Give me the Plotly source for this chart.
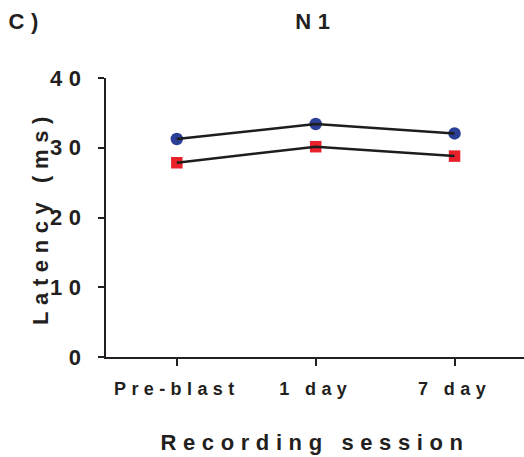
import plotly.graph_objects as go

# Recording sessions and N1 latencies (ms) for the two groups
sessions = ["Pre-blast", "1 day", "7 day"]
latency_circle = [31.25, 33.4, 32.05]
latency_square = [27.85, 30.15, 28.8]

y_ticks = [0, 10, 20, 30, 40]

INK = "#231f20"
BLUE = "#2c3f97"
RED = "#e8212a"
FONT = "Liberation Sans"

fig = go.Figure()

# markers first so the connecting lines sit on top of them
fig.add_trace(go.Scatter(
    x=sessions, y=latency_circle, mode="markers",
    marker=dict(symbol="circle", size=12.5, color=BLUE, line=dict(width=0)),
    showlegend=False, hoverinfo="skip"))
fig.add_trace(go.Scatter(
    x=sessions, y=latency_square, mode="markers",
    marker=dict(symbol="square", size=11.5, color=RED, line=dict(width=0)),
    showlegend=False, hoverinfo="skip"))
fig.add_trace(go.Scatter(
    x=sessions, y=latency_circle, mode="lines",
    line=dict(color="#1d1d1b", width=2.5),
    showlegend=False, hoverinfo="skip"))
fig.add_trace(go.Scatter(
    x=sessions, y=latency_square, mode="lines",
    line=dict(color="#1d1d1b", width=2.5),
    showlegend=False, hoverinfo="skip"))

fig.update_layout(
    width=524, height=457,
    margin=dict(l=106, r=0, t=78, b=100),
    paper_bgcolor="white", plot_bgcolor="white",
    font=dict(family=FONT, color=INK, weight="bold"),
    title=dict(text="N1", x=0.603, xanchor="center", y=1 - 21 / 457,
               yanchor="middle", font=dict(size=22, weight="bold")),
    annotations=[dict(text="C)", xref="paper", yref="paper", x=-0.222, y=1.204,
                      xanchor="left", yanchor="middle", showarrow=False,
                      font=dict(size=22, weight="bold"))],
)

fig.update_xaxes(
    type="category", range=[-0.51, 2.5],
    showline=True, linecolor=INK, linewidth=2,
    ticks="outside", ticklen=7, tickwidth=2, tickcolor=INK,
    showgrid=False, zeroline=False,
    tickfont=dict(size=18, weight="bold"), ticklabelstandoff=7,
    title=dict(text="Recording session", standoff=37,
               font=dict(size=22, weight="bold")),
)
fig.update_yaxes(
    range=[0, 40], tickvals=y_ticks,
    showline=True, linecolor=INK, linewidth=2,
    ticks="outside", ticklen=6, tickwidth=2, tickcolor=INK,
    showgrid=False, zeroline=False,
    tickfont=dict(size=22, weight="bold"), ticklabelstandoff=6,
    title=dict(text="Latency (ms)", standoff=8,
               font=dict(size=22, weight="bold")),
)

# wide tracking on every label
spacing_js = (
    "var s=document.createElement('style');"
    "s.textContent='.js-plotly-plot svg text{letter-spacing:0.3em}';"
    "document.head.appendChild(s);"
)

fig.write_html("out.html", post_script=spacing_js)
